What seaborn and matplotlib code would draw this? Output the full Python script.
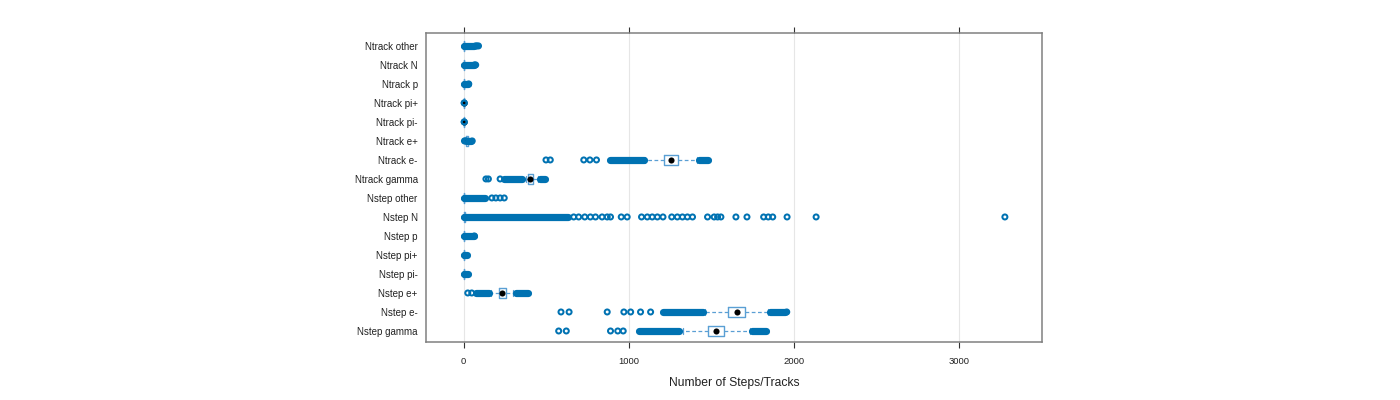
import numpy as np
import pandas as pd
import matplotlib
matplotlib.use("Agg")
import matplotlib.pyplot as plt
import seaborn as sns

# --- data (values in steps / tracks) ---
categories = ["Ntrack other", "Ntrack N", "Ntrack p", "Ntrack pi+", "Ntrack pi-",
              "Ntrack e+", "Ntrack e-", "Ntrack gamma", "Nstep other", "Nstep N",
              "Nstep p", "Nstep pi+", "Nstep pi-", "Nstep e+", "Nstep e-", "Nstep gamma"]

q1 = [0, 0, 0, 0, 0, 14, 1217, 393, 0, 0, 0, 0, 0, 217, 1605, 1478]
median = [1, 1, 0, 0, 0, 19, 1257, 405, 2, 2, 1, 0, 0, 235, 1656, 1528]
q3 = [2, 2, 1, 1, 1, 24, 1297, 419, 5, 6, 2, 1, 1, 256, 1706, 1579]
whisker_lo = [0, 0, 0, 0, 0, 10, 1100, 375, 0, 0, 0, 0, 0, 165, 1460, 1330]
whisker_hi = [5, 5, 3, 2, 2, 30, 1413, 452, 12, 15, 5, 3, 3, 298, 1846, 1735]

# dense runs of outliers (they overlap into a solid band)
band_cat = ["Ntrack other", "Ntrack N", "Ntrack p", "Ntrack e+",
            "Ntrack e-", "Ntrack e-", "Ntrack gamma", "Ntrack gamma",
            "Nstep other", "Nstep N", "Nstep p", "Nstep pi+", "Nstep pi-",
            "Nstep e+", "Nstep e+", "Nstep e-", "Nstep e-",
            "Nstep gamma", "Nstep gamma"]
band_lo = [0, 0, 0, 28, 888, 1429, 244, 462, 0, 0, 0, 0, 0,
           77, 317, 1208, 1858, 1060, 1749]
band_hi = [62, 60, 28, 46, 1090, 1478, 355, 490, 132, 630, 61, 18, 28,
           152, 390, 1449, 1945, 1308, 1834]

# single outliers, one list per category
outlier_cat = ["Ntrack other", "Ntrack N", "Ntrack p", "Ntrack pi+", "Ntrack pi-",
               "Ntrack e+", "Ntrack e-", "Ntrack gamma", "Nstep other", "Nstep N",
               "Nstep p", "Nstep e+", "Nstep e-", "Nstep gamma"]
outlier_val = [
    [72, 80, 90],
    [66, 73],
    [31],
    [3, 4],
    [3, 4],
    [5, 10, 19, 52],
    [499, 525, 728, 765, 805],
    [135, 150, 221],
    [171, 195, 221, 246],
    [667, 697, 734, 768, 799, 839, 870, 890, 955, 991, 1078, 1113, 1143,
     1174, 1208, 1261, 1295, 1326, 1356, 1387, 1478, 1518, 1539, 1559,
     1650, 1717, 1818, 1846, 1873, 1960, 2136, 3280],
    [65],
    [25, 49],
    [590, 639, 870, 971, 1012, 1072, 1133, 1958],
    [576, 622, 890, 934, 967],
]

xticks = [0, 1000, 2000, 3000]

# --- styling ---
sns.set_theme(style="white")
plt.rcParams["font.family"] = ["Liberation Sans", "DejaVu Sans"]

point_color = "#0072B2"
box_color = "#5A9FD4"

fig = plt.figure(figsize=(14, 4), dpi=100)
ax = fig.add_axes([0.3043, 0.145, 0.44, 0.7725])

rows = [(c, v) for c, vals in zip(outlier_cat, outlier_val) for v in vals]
pts = pd.DataFrame(rows, columns=["category", "value"])
pos = {c: i for i, c in enumerate(categories)}

# single outliers as open circles
sns.stripplot(data=pts, x="value", y="category", order=categories,
              jitter=False, size=3.6, color=point_color, ax=ax, zorder=4)
for coll in ax.collections:
    coll.set_facecolor("none")
    coll.set_edgecolor(point_color)
    coll.set_linewidth(1.45)

# box + whiskers (lattice-like: open box, dashed whiskers)
stats = []
for i in range(len(categories)):
    stats.append({"med": median[i], "q1": q1[i], "q3": q3[i],
                  "whislo": whisker_lo[i], "whishi": whisker_hi[i], "fliers": []})
ax.bxp(stats, positions=range(len(categories)), orientation="horizontal",
       widths=0.55, capwidths=0.3, manage_ticks=False, showfliers=False,
       boxprops=dict(color=box_color, linewidth=1.0),
       whiskerprops=dict(color=box_color, linewidth=0.9, linestyle=(0, (3, 2))),
       capprops=dict(color=box_color, linewidth=0.9),
       medianprops=dict(linestyle="none"), zorder=2)

# median dots
ax.plot(median, range(len(categories)), "o", color="black", ms=4.4, mew=0,
        zorder=2.5)

# dense outlier bands
ax.hlines([pos[c] for c in band_cat], band_lo, band_hi,
          color=point_color, linewidth=5.2, capstyle="round", zorder=3)

ax.set_xlim(-228, 3505)
ax.set_ylim(15.58, -0.68)
ax.set_xticks(xticks)
ax.set_xticklabels([str(t) for t in xticks])
ax.xaxis.grid(True, color="#E6E6E6", linewidth=0.8)
ax.yaxis.grid(False)
ax.set_axisbelow(True)
ax.tick_params(axis="x", which="both", direction="out", length=4, width=0.8,
               color="#333333", top=True, bottom=True, labelsize=6.8,
               labelcolor="#222222", pad=7)
ax.tick_params(axis="y", length=0, labelsize=7, labelcolor="#222222", pad=6)
for sp in ax.spines.values():
    sp.set_color("#808080")
    sp.set_linewidth(1.1)

ax.set_xlabel("Number of Steps/Tracks", fontsize=8.75, color="#222222", labelpad=8)
ax.set_ylabel("")

fig.savefig("out.png", dpi=100)
